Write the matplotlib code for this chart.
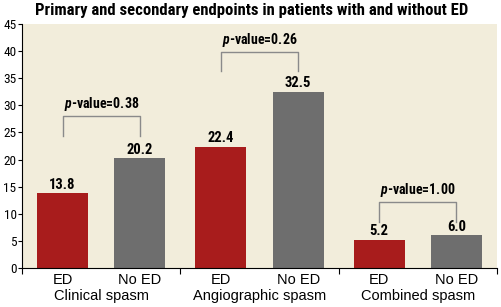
import matplotlib.pyplot as plt
import numpy as np

groups = ["Clinical spasm", "Angiographic spasm", "Combined spasm"]
bar_labels = ["ED", "No ED"]
ed_values = [13.8, 22.4, 5.2]
no_ed_values = [20.2, 32.5, 6.0]
p_values = ["0.38", "0.26", "1.00"]
# bracket top / leg bottom heights (in data units)
bracket_top = [28.0, 39.8, 12.2]
bracket_leg = [24.3, 36.3, 8.5]

red = "#a81c1c"
grey = "#6e6e6e"
bg = "#f2eddb"
narrow = ["Roboto Condensed", "Archivo Narrow", "DejaVu Sans"]
plain = ["Liberation Sans", "DejaVu Sans"]

# italic p in the p-value labels
plt.rcParams["mathtext.fontset"] = "custom"
plt.rcParams["mathtext.it"] = "Roboto Condensed:italic:bold"
plt.rcParams["mathtext.rm"] = "Roboto Condensed:bold"

fig = plt.figure(figsize=(5.02, 3.07), dpi=100)
ax = fig.add_axes([0.044, 0.127, 0.946, 0.795])
ax.set_facecolor(bg)

x = np.arange(len(groups))
off = 0.244
w = 0.323
ax.bar(x - off, ed_values, w, color=red)
ax.bar(x + off, no_ed_values, w, color=grey)

for xi, v in zip(x - off, ed_values):
    ax.text(xi, v + 0.3, f"{v:.1f}", ha="center", va="bottom", fontsize=10.5,
            fontweight="bold", family=narrow)
for xi, v in zip(x + off, no_ed_values):
    ax.text(xi, v + 0.3, f"{v:.1f}", ha="center", va="bottom", fontsize=10.5,
            fontweight="bold", family=narrow)

# p-value brackets
for i in range(len(groups)):
    x0, x1 = x[i] - off, x[i] + off
    ax.plot([x0, x0, x1, x1], [bracket_leg[i], bracket_top[i], bracket_top[i], bracket_leg[i]],
            color="#8a8a8a", lw=1.0)
    ax.text(x[i], bracket_top[i] + 0.5, r"$p$-value=" + p_values[i], ha="center",
            va="bottom", fontsize=10, fontweight="bold", family=narrow)

ax.set_xlim(-0.5, 2.5)
ax.set_ylim(0, 45)
ax.set_yticks(range(0, 46, 5))
ax.tick_params(axis="y", labelsize=9.5, length=3, pad=1)
for lab in ax.get_yticklabels():
    lab.set_family(narrow)

ax.set_xticks([-0.5, 0.5, 1.5, 2.5])
ax.set_xticklabels([])
ax.tick_params(axis="x", which="major", direction="out", length=4)
for i in range(len(groups)):
    ax.text(x[i] - off, -1.0, bar_labels[0], ha="center", va="top", fontsize=10.5, family=plain)
    ax.text(x[i] + off, -1.0, bar_labels[1], ha="center", va="top", fontsize=10.5, family=plain)
    ax.text(x[i], -3.9, groups[i], ha="center", va="top", fontsize=10.5, family=plain)

for s in ["top", "right"]:
    ax.spines[s].set_visible(False)
ax.spines["left"].set_color("black")
ax.spines["bottom"].set_color("black")

fig.suptitle("Primary and secondary endpoints in patients with and without ED",
             x=0.502, y=0.99, fontsize=12, fontweight="bold", family=narrow)

fig.savefig("out.png", dpi=100)
